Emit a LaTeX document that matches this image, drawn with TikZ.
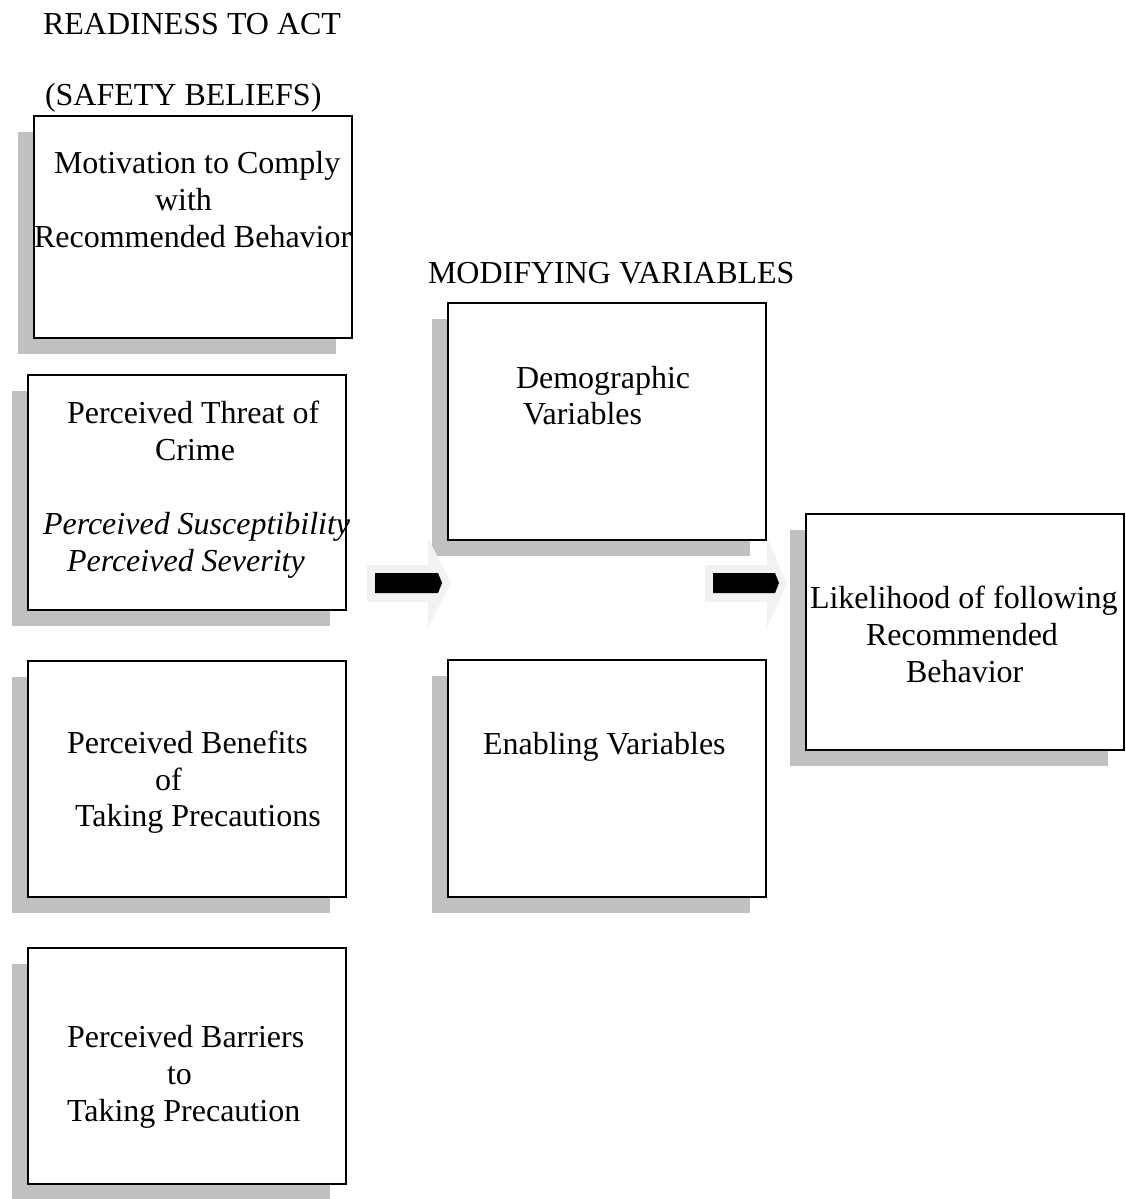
\documentclass[tikz,border=0pt]{standalone}
\usepackage{fontspec}
\setmainfont{Liberation Serif}
\usetikzlibrary{shadows}
\definecolor{shadowgray}{HTML}{C0C0C0}
\definecolor{arrowlight}{HTML}{F2F2F2}
\begin{document}
\begin{tikzpicture}[x=1pt,y=-1pt,
  box/.style={draw=black, line width=2pt, fill=white, inner sep=0pt, outer sep=0pt,
    minimum width=318pt,
    general shadow={fill=shadowgray, shadow xshift=-16pt, shadow yshift=-16pt}},
  txt/.style={anchor=base west, inner sep=0pt, outer sep=0pt,
    font=\fontsize{32}{37}\selectfont},
  itxt/.style={txt, font=\fontsize{32}{37}\selectfont\itshape},
  lightarrow/.style={fill=arrowlight},
  darkarrow/.style={fill=black}]
\useasboundingbox (0,0) rectangle (1125,1199);

% titles
\node[txt] (t1) at (43,35) {READINESS TO ACT};
\node[txt] (t2) at (45,105) {(SAFETY BELIEFS)};
\node[txt] (t3) at (428,283) {MODIFYING VARIABLES};

% boxes
\node[box, minimum height=222pt] (b1) at (193,227) {};
\node[box, minimum height=235pt] (b2) at (187,492.5) {};
\node[box, minimum height=236pt] (b3) at (187,779) {};
\node[box, minimum height=236pt] (b4) at (187,1066) {};
\node[box, minimum height=237pt] (b5) at (607,421.5) {};
\node[box, minimum height=237pt] (b6) at (607,778.5) {};
\node[box, minimum height=236pt] (b7) at (965,632) {};

% block arrows
\fill[lightarrow] (367,565) -- (428,565) -- (428,538) -- (451,583) -- (428,628) -- (428,602) -- (367,602) -- cycle;
\fill[darkarrow] (375,573) -- (438,573) -- (442,583) -- (438,593) -- (375,593) -- cycle;
\fill[lightarrow] (705,565) -- (767,565) -- (767,538) -- (787,583) -- (767,628) -- (767,602) -- (705,602) -- cycle;
\fill[darkarrow] (713,573) -- (775,573) -- (779,583) -- (775,593) -- (713,593) -- cycle;

% box 1
\node[txt] (l11) at (54,173) {Motivation to Comply};
\node[txt] (l12) at (155,210) {with};
\node[txt] (l13) at (34,247) {Recommended Behavior};
% box 2
\node[txt] (l21) at (67,423) {Perceived Threat of};
\node[txt] (l22) at (155,460) {Crime};
\node[itxt] (l23) at (43,534) {Perceived Susceptibility};
\node[itxt] (l24) at (67,571) {Perceived Severity};
% box 3
\node[txt] (l31) at (67,753) {Perceived Benefits};
\node[txt] (l32) at (155,790) {of};
\node[txt] (l33) at (75,826) {Taking Precautions};
% box 4
\node[txt] (l41) at (67,1047) {Perceived Barriers};
\node[txt] (l42) at (167,1084) {to};
\node[txt] (l43) at (67,1121) {Taking Precaution};
% box 5
\node[txt] (l51) at (516,388) {Demographic};
\node[txt] (l52) at (523,424) {Variables};
% box 6
\node[txt] (l61) at (483,754) {Enabling Variables};
% box 7
\node[txt] (l71) at (810,608) {Likelihood of following};
\node[txt] (l72) at (866,645) {Recommended};
\node[txt] (l73) at (906,682) {Behavior};
\end{tikzpicture}
\end{document}
